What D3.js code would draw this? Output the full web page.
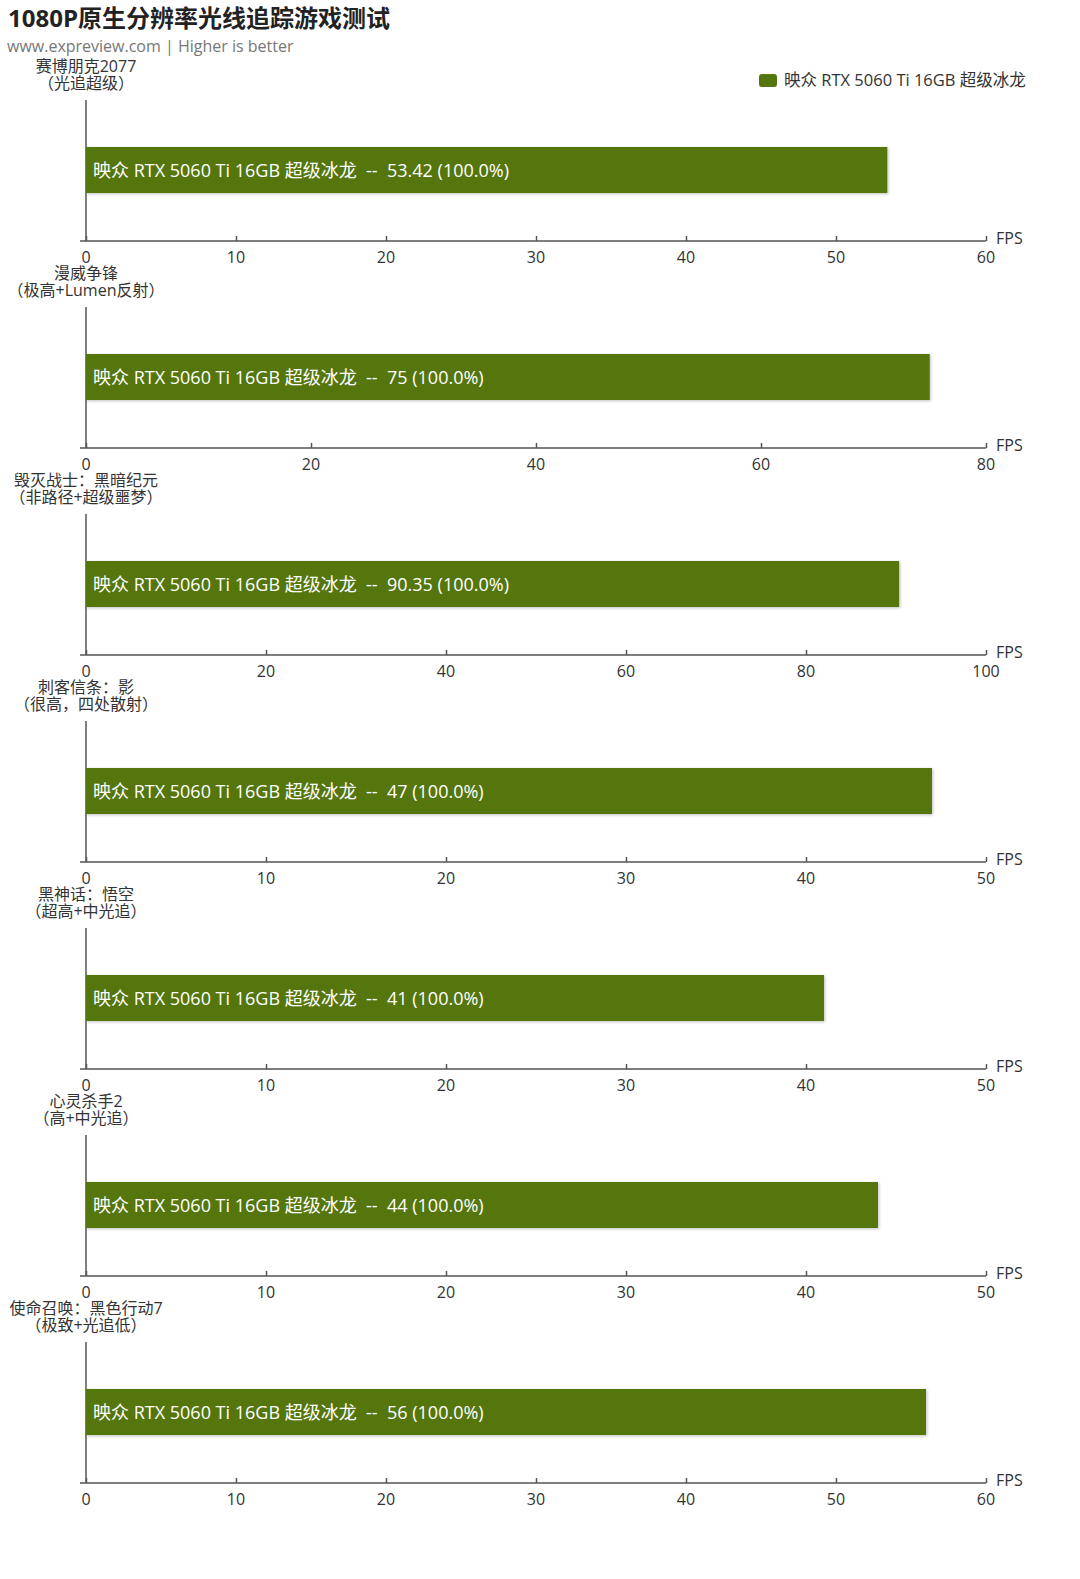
<!DOCTYPE html>
<html>
<head>
<meta charset="utf-8">
<script src="https://cdn.jsdelivr.net/npm/d3@7"></script>
<style>
  body { margin: 0; background: #fff; }
  svg text { font-family: "Open Sans", "Noto Sans CJK SC", sans-serif; }
</style>
</head>
<body>
<script>
// data
const games = ["赛博朋克2077", "漫威争锋", "毁灭战士：黑暗纪元", "刺客信条：影", "黑神话：悟空", "心灵杀手2", "使命召唤：黑色行动7"];
const settings = ["（光追超级）", "（极高+Lumen反射）", "（非路径+超级噩梦）", "（很高，四处散射）", "（超高+中光追）", "（高+中光追）", "（极致+光追低）"];
const fps = [53.42, 75, 90.35, 47, 41, 44, 56];
const axisMax = [60, 80, 100, 50, 50, 50, 60];
const tickStep = [10, 20, 20, 10, 10, 10, 10];
const cardName = "映众 RTX 5060 Ti 16GB 超级冰龙";

// layout
const width = 1080;
const height = 1579;
const x0 = 86;
const x1 = 986;
const firstAxisY = 241;
const panelGap = 207;
const barColor = "#54760f";

const svg = d3.select("body").append("svg")
  .attr("width", width)
  .attr("height", height);

const defs = svg.append("defs");
const shadow = defs.append("filter").attr("id", "shadow")
  .attr("x", "-5%").attr("y", "-20%").attr("width", "110%").attr("height", "150%");
shadow.append("feDropShadow")
  .attr("dx", 1).attr("dy", 1).attr("stdDeviation", 1.5)
  .attr("flood-color", "#000").attr("flood-opacity", 0.25);

// title
svg.append("text")
  .attr("x", 8).attr("y", 27)
  .attr("font-size", 24).attr("font-weight", "bold").attr("fill", "#222")
  .text("1080P原生分辨率光线追踪游戏测试");
svg.append("text")
  .attr("x", 7).attr("y", 52)
  .attr("font-size", 16).attr("fill", "#777")
  .text("www.expreview.com | Higher is better");

// legend
svg.append("rect")
  .attr("x", 759).attr("y", 74).attr("width", 18).attr("height", 13)
  .attr("rx", 3).attr("fill", barColor);
svg.append("text")
  .attr("x", 784).attr("y", 86)
  .attr("font-size", 16.5).attr("fill", "#333")
  .text(cardName);

games.forEach((game, i) => {
  const axisY = firstAxisY + i * panelGap;
  const g = svg.append("g");

  const x = d3.scaleLinear().domain([0, axisMax[i]]).range([x0, x1]);
  const ticks = d3.range(0, axisMax[i] + tickStep[i] / 2, tickStep[i]);

  // game label
  g.append("text")
    .attr("x", x0).attr("y", axisY - 169)
    .attr("text-anchor", "middle").attr("font-size", 16).attr("fill", "#333")
    .text(game);
  g.append("text")
    .attr("x", x0).attr("y", axisY - 152)
    .attr("text-anchor", "middle").attr("font-size", 16).attr("fill", "#333")
    .text(settings[i]);

  // vertical axis line
  g.append("line")
    .attr("x1", x0).attr("x2", x0)
    .attr("y1", axisY - 141).attr("y2", axisY)
    .attr("stroke", "#555").attr("stroke-width", 1.5);

  // bar
  g.append("rect")
    .attr("x", x(0)).attr("y", axisY - 94)
    .attr("width", x(fps[i]) - x(0)).attr("height", 46)
    .attr("fill", barColor)
    .attr("filter", "url(#shadow)");

  g.append("text")
    .attr("x", x0 + 7).attr("y", axisY - 71)
    .attr("dominant-baseline", "central")
    .attr("font-size", 18).attr("fill", "#fff")
    .attr("xml:space", "preserve")
    .text(`${cardName}  --  ${fps[i]} (100.0%)`);

  // x axis
  const axis = d3.axisTop(x).tickValues(ticks).tickSize(5).tickFormat("");
  const ax = g.append("g").attr("transform", `translate(0,${axisY})`).call(axis);
  ax.select(".domain").attr("stroke", "#555").attr("stroke-width", 1.5)
    .attr("d", `M${x0 - 6},0H${x1}`);
  ax.selectAll(".tick line").attr("stroke", "#555").attr("stroke-width", 1.5);

  g.selectAll(".ticklabel")
    .data(ticks)
    .enter()
    .append("text")
    .attr("x", (d) => x(d))
    .attr("y", axisY + 22)
    .attr("text-anchor", "middle").attr("font-size", 16).attr("fill", "#333")
    .text((d) => d);

  g.append("text")
    .attr("x", 996).attr("y", axisY + 3)
    .attr("font-size", 16).attr("fill", "#333")
    .text("FPS");
});
</script>
</body>
</html>
